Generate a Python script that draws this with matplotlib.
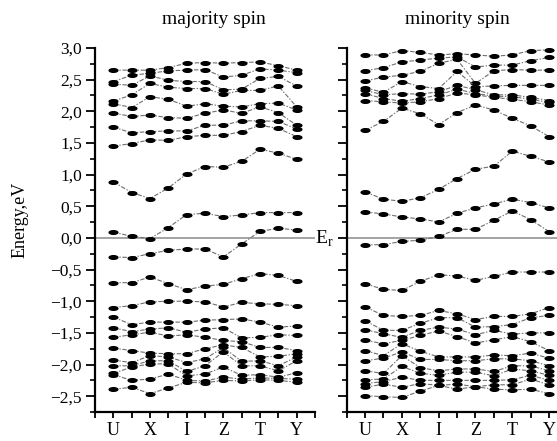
import numpy as np
import matplotlib
matplotlib.use('Agg')
import matplotlib.pyplot as plt
from matplotlib.path import Path
from matplotlib.ticker import MultipleLocator, FuncFormatter

plt.rcParams['font.family'] = ['Liberation Serif', 'DejaVu Serif']
plt.rcParams['mathtext.fontset'] = 'custom'
plt.rcParams['mathtext.rm'] = 'Liberation Serif'

kpts = list(range(11))
ticks = list(range(-1, 12))
tick_labels = ['', 'U', '', 'X', '', 'I', '', 'Z', '', 'T', '', 'Y', '']

# majority spin, upper bands, one list per k-point
maj_upper = [
    [2.65, 2.47, 2.43, 2.16, 2.12, 1.97, 1.75, 1.45],
    [2.65, 2.57, 2.41, 2.26, 2.06, 1.92, 1.66, 1.49],
    [2.65, 2.60, 2.56, 2.44, 2.23, 1.94, 1.68, 1.55],
    [2.69, 2.64, 2.49, 2.38, 2.19, 1.90, 1.69, 1.54],
    [2.76, 2.65, 2.47, 2.36, 2.08, 1.89, 1.69, 1.60],
    [2.77, 2.66, 2.47, 2.36, 2.12, 1.97, 1.78, 1.62],
    [2.76, 2.54, 2.34, 2.27, 2.08, 2.02, 1.78, 1.62],
    [2.77, 2.57, 2.35, 2.33, 2.07, 1.97, 1.85, 1.68],
    [2.78, 2.67, 2.52, 2.33, 2.12, 2.07, 1.85, 1.78],
    [2.72, 2.65, 2.55, 2.40, 2.13, 1.98, 1.84, 1.73],
    [2.65, 2.61, 2.40, 2.07, 2.02, 1.78, 1.72, 1.60],
]
# bands near the Fermi level
maj_mid = [
    [0.885, 0.717, 0.622, 0.79, 1.01, 1.128, 1.117, 1.21, 1.40, 1.34, 1.24],
    [0.093, 0.025, -0.01, 0.163, 0.369, 0.389, 0.337, 0.362, 0.40, 0.40, 0.40],
    [-0.30, -0.31, -0.25, -0.196, -0.175, -0.175, -0.30, -0.096, 0.104, 0.152, 0.125],
    [-0.707, -0.707, -0.618, -0.723, -0.818, -0.761, -0.734, -0.644, -0.565, -0.592, -0.687],
]
maj_lower = [
    [-1.10, -1.25, -1.42, -1.57, -1.74, -1.93, -2.02, -2.14, -2.16, -2.39],
    [-1.07, -1.37, -1.48, -1.53, -1.78, -1.97, -2.02, -2.04, -2.25, -2.36],
    [-1.01, -1.33, -1.44, -1.49, -1.82, -1.86, -1.94, -1.99, -2.23, -2.46],
    [-1.00, -1.33, -1.42, -1.55, -1.83, -1.88, -1.94, -1.99, -2.15, -2.37],
    [-1.00, -1.33, -1.49, -1.53, -1.83, -1.97, -2.11, -2.18, -2.25, -2.28],
    [-1.01, -1.30, -1.44, -1.57, -1.75, -1.91, -2.02, -2.15, -2.26, -2.29],
    [-1.09, -1.29, -1.42, -1.62, -1.69, -1.73, -1.80, -2.04, -2.20, -2.25],
    [-1.02, -1.28, -1.58, -1.64, -1.73, -1.95, -2.02, -2.17, -2.23, -2.26],
    [-1.04, -1.33, -1.57, -1.73, -1.88, -1.94, -2.02, -2.16, -2.21, -2.24],
    [-1.05, -1.41, -1.53, -1.73, -1.87, -2.02, -2.10, -2.20, -2.22, -2.25],
    [-1.07, -1.39, -1.54, -1.78, -1.83, -1.88, -1.94, -2.13, -2.23, -2.28],
]

# minority spin
min_upper = [
    [2.89, 2.64, 2.48, 2.37, 2.33, 2.28, 2.17, 1.70],
    [2.89, 2.69, 2.54, 2.30, 2.26, 2.20, 2.15, 1.84],
    [2.96, 2.78, 2.57, 2.47, 2.28, 2.16, 2.13, 2.05],
    [2.93, 2.81, 2.63, 2.39, 2.27, 2.20, 2.15, 1.96],
    [2.89, 2.84, 2.76, 2.36, 2.31, 2.26, 2.20, 1.79],
    [2.91, 2.86, 2.82, 2.63, 2.41, 2.35, 2.29, 1.98],
    [2.89, 2.70, 2.44, 2.39, 2.34, 2.28, 2.26, 2.10],
    [2.87, 2.73, 2.64, 2.40, 2.26, 2.24, 2.22, 2.02],
    [2.89, 2.73, 2.66, 2.41, 2.26, 2.23, 2.19, 1.89],
    [2.96, 2.80, 2.65, 2.41, 2.22, 2.19, 2.15, 1.77],
    [2.97, 2.85, 2.65, 2.41, 2.17, 2.14, 2.10, 1.60],
]
min_mid = [
    [0.727, 0.611, 0.579, 0.632, 0.769, 0.938, 1.085, 1.133, 1.37, 1.29, 1.20],
    [0.410, 0.379, 0.331, 0.30, 0.252, 0.389, 0.474, 0.537, 0.611, 0.558, 0.474],
    [-0.107, -0.107, -0.054, -0.038, 0.025, 0.136, 0.136, 0.278, 0.426, 0.289, 0.10],
    [-0.724, -0.813, -0.83, -0.687, -0.581, -0.602, -0.671, -0.608, -0.539, -0.539, -0.539],
]
min_lower = [
    [-1.09, -1.31, -1.45, -1.62, -1.78, -1.94, -2.10, -2.24, -2.30, -2.36, -2.49],
    [-1.225, -1.46, -1.515, -1.67, -1.86, -1.90, -2.14, -2.23, -2.27, -2.31, -2.51],
    [-1.24, -1.46, -1.57, -1.62, -1.67, -1.80, -1.86, -2.03, -2.20, -2.36, -2.52],
    [-1.225, -1.35, -1.46, -1.54, -1.79, -1.92, -2.05, -2.14, -2.25, -2.30, -2.42],
    [-1.146, -1.26, -1.41, -1.47, -1.88, -1.92, -2.10, -2.17, -2.25, -2.33, -2.33],
    [-1.20, -1.26, -1.44, -1.56, -1.88, -1.94, -2.07, -2.12, -2.25, -2.31, -2.39],
    [-1.29, -1.41, -1.53, -1.66, -1.88, -1.94, -2.07, -2.12, -2.25, -2.35, -2.35],
    [-1.24, -1.40, -1.46, -1.61, -1.85, -1.91, -2.11, -2.18, -2.25, -2.32, -2.39],
    [-1.24, -1.37, -1.52, -1.56, -1.86, -1.91, -2.02, -2.07, -2.24, -2.32, -2.40],
    [-1.20, -1.26, -1.50, -1.64, -1.82, -1.94, -2.02, -2.10, -2.17, -2.23, -2.39],
    [-1.10, -1.225, -1.50, -1.78, -1.90, -2.02, -2.10, -2.17, -2.25, -2.32, -2.46],
]

# flat ellipse marker
t = np.linspace(0, 2 * np.pi, 41)
ellipse = Path(np.column_stack([np.cos(t), 0.5 * np.sin(t)]), closed=True)


def draw_bands(ax, upper, mid, lower):
    bands = list(np.array(upper).T) + [np.array(b) for b in mid] + list(np.array(lower).T)
    for b in bands:
        ax.plot(kpts, b, color='#6e6e6e', lw=0.8, ls=(0, (4, 1.5, 1.2, 1.5)),
                marker=ellipse, ms=7.3, mfc='black', mec='black', mew=0, zorder=3)


def fmt(v, pos):
    s = ('%.1f' % abs(v)).replace('.', ',')
    return ('\u2212' + s) if v < -1e-9 else s


fig = plt.figure(figsize=(5.57, 4.41), dpi=100)
ax1 = fig.add_axes([95 / 557, 29 / 441, 220 / 557, 364 / 441])
ax2 = fig.add_axes([346.7 / 557, 29 / 441, 220.8 / 557, 364 / 441])

draw_bands(ax1, maj_upper, maj_mid, maj_lower)
draw_bands(ax2, min_upper, min_mid, min_lower)

for ax in (ax1, ax2):
    ax.set_xlim(-1, 11)
    ax.set_ylim(-2.75, 3.0)
    ax.axhline(0, color='#8a8a8a', lw=1.1, zorder=1)
    ax.spines['top'].set_visible(False)
    ax.spines['right'].set_visible(False)
    ax.spines['left'].set_linewidth(1.6)
    ax.spines['bottom'].set_linewidth(1.6)
    ax.set_xticks(ticks)
    ax.set_xticklabels(tick_labels, fontsize=13)
    ax.yaxis.set_major_locator(MultipleLocator(0.5))
    ax.yaxis.set_minor_locator(MultipleLocator(0.25))
    ax.tick_params(axis='x', direction='out', length=4, width=1.3, pad=3)
    ax.tick_params(axis='y', which='major', direction='out', length=6.5, width=1.3, pad=3, labelsize=12.5)
    ax.tick_params(axis='y', which='minor', direction='out', length=3.5, width=1.2)

ax1.yaxis.set_major_formatter(FuncFormatter(fmt))
ax2.set_yticklabels([])

fig.text(214 / 557, 1 - 20 / 441, 'majority spin', ha='center', va='center', fontsize=14)
fig.text(457 / 557, 1 - 20 / 441, 'minority spin', ha='center', va='center', fontsize=14)
fig.text(20 / 557, 1 - 220 / 441, 'Energy,eV', ha='center', va='center', rotation=90, fontsize=13)
fig.text(315 / 557, 1 - 239 / 441, 'E$_\\mathrm{r}$', ha='left', va='center', fontsize=14)

fig.savefig('out.png', dpi=100)
